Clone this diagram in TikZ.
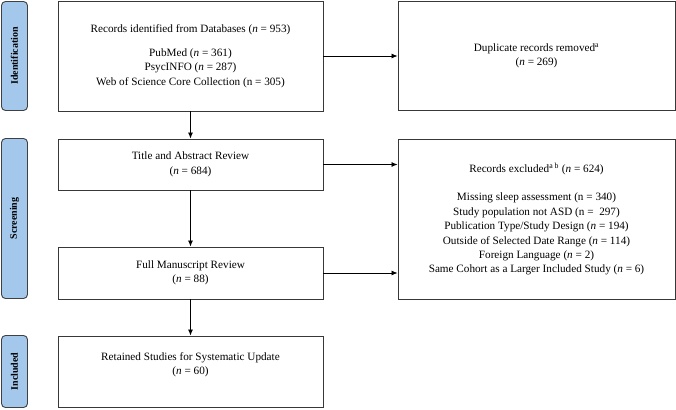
\documentclass[tikz,border=0pt]{standalone}
\usepackage{fontspec}
\setmainfont{Liberation Serif}
\usetikzlibrary{arrows.meta}
\tikzset{
  boxa/.style={draw=black!78, line width=0.9pt, rectangle, align=center, inner sep=0pt, font=\fontsize{11.2}{14.4}\selectfont},
  band/.style={draw=black!75, line width=0.9pt, fill=bandblue, rounded corners=4pt},
  bandtext/.style={rotate=90, font=\fontsize{10}{11}\selectfont\bfseries},
  arr/.style={-{Latex[length=6pt,width=5pt]}, line width=0.8pt, black}
}
\definecolor{bandblue}{HTML}{A4C8EC}
\begin{document}
\begin{tikzpicture}[x=1pt,y=-1pt]
\useasboundingbox (0,0) rectangle (676,409);
% bands
\draw[band] (1.5,1.5) rectangle (27.5,110.5);
\node[bandtext] (lid) at (14.5,56) {Identification};
\draw[band] (1.5,138.5) rectangle (27.5,298.5);
\node[bandtext] (lsc) at (14.5,218.5) {Screening};
\draw[band] (1.5,335.5) rectangle (27.5,407.5);
\node[bandtext] (lin) at (14.5,371.5) {Included};
% left boxes
\node[boxa, minimum width=265pt, minimum height=110pt] (db) at (190.5,56)
  {Records identified from Databases (\textit{n} = 953)\\[9.5pt]
   PubMed (\textit{n} = 361)\\
   PsycINFO (\textit{n} = 287)\\
   Web of Science Core Collection (n = 305)};
\node[boxa, minimum width=265pt, minimum height=51pt] (ta) at (190.5,164.5)
  {Title and Abstract Review\\(\textit{n} = 684)};
\node[boxa, minimum width=265pt, minimum height=52pt] (fm) at (190.5,273)
  {Full Manuscript Review\\(\textit{n} = 88)};
\node[boxa, minimum width=265pt, minimum height=71pt] (rs) at (190.5,371.5) {};
\node[align=center, inner sep=0pt, font=\fontsize{11.2}{14.4}\selectfont] (rst) at (190.5,364.5)
  {Retained Studies for Systematic Update\\(\textit{n} = 60)};
% right boxes
\node[boxa, minimum width=277pt, minimum height=109pt] (dup) at (536.5,56)
  {Duplicate records removed\textsuperscript{a}\\(\textit{n} = 269)};
\node[boxa, minimum width=277pt, minimum height=160pt] (ex) at (536.5,219)
  {Records excluded\textsuperscript{a b} (\textit{n} = 624)\\[14.4pt]
   Missing sleep assessment (n = 340)\\
   Study population not ASD (n = \ 297)\\
   Publication Type/Study Design (\textit{n} = 194)\\
   Outside of Selected Date Range (\textit{n} = 114)\\
   Foreign Language (\textit{n} = 2)\\
   Same Cohort as a Larger Included Study (\textit{n} = 6)};
% arrows
\draw[arr] (db.south) -- (ta.north);
\draw[arr] (ta.south) -- (fm.north);
\draw[arr] (fm.south) -- (rs.north);
\draw[arr] (db.east) -- (dup.west);
\draw[arr] (ta.east) -- (ta.east -| ex.west);
\draw[arr] (fm.east) -- (fm.east -| ex.west);
\end{tikzpicture}
\end{document}
